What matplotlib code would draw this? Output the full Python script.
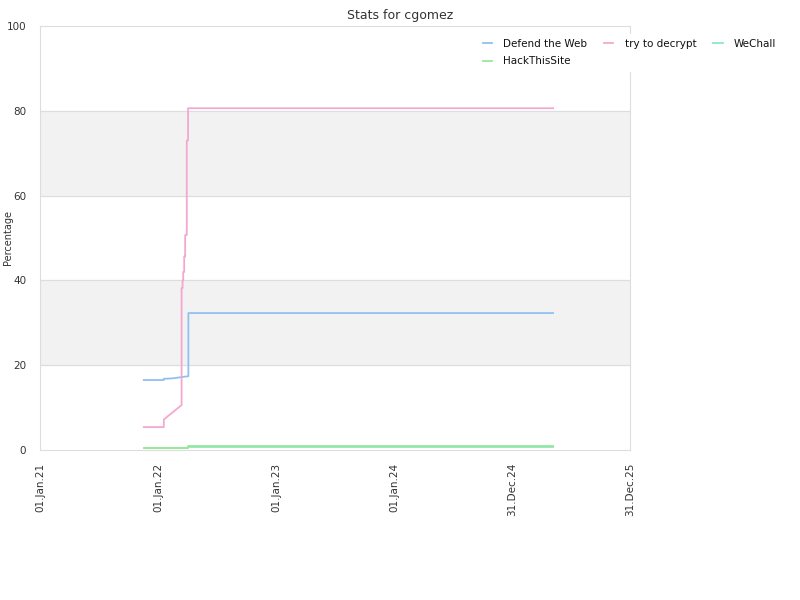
import matplotlib
matplotlib.use("Agg")
import matplotlib.pyplot as plt
import pandas as pd

# Stats per site (percentage solved over time)
defend_dates = ["2021-11-18", "2022-01-19", "2022-01-19", "2022-02-16", "2022-03-15",
                "2022-04-05", "2022-04-05", "2025-05-07"]
defend_vals = [16.5, 16.5, 16.8, 16.9, 17.2, 17.4, 32.3, 32.3]

decrypt_dates = ["2021-11-18", "2022-01-19", "2022-01-19", "2022-03-15", "2022-03-15",
                 "2022-03-18", "2022-03-18", "2022-03-20", "2022-03-20", "2022-03-23",
                 "2022-03-23", "2022-03-26", "2022-03-26", "2022-03-31", "2022-03-31",
                 "2022-04-04", "2022-04-04", "2025-05-07"]
decrypt_vals = [5.4, 5.4, 7.2, 10.6, 38.2, 38.2, 40.0, 40.0, 42.0, 42.0,
                45.6, 45.6, 50.7, 50.7, 73.0, 73.0, 80.6, 80.6]

wechall_dates = ["2021-11-18", "2022-04-05", "2022-04-05", "2025-05-07"]
wechall_vals = [0.5, 0.5, 0.7, 0.7]

hts_dates = ["2021-11-18", "2022-04-05", "2022-04-05", "2025-05-07"]
hts_vals = [0.5, 0.5, 0.9, 0.9]

tick_dates = ["2021-01-01", "2022-01-01", "2023-01-01", "2024-01-01", "2024-12-31", "2025-12-31"]
tick_labels = ["01.Jan.21", "01.Jan.22", "01.Jan.23", "01.Jan.24", "31.Dec.24", "31.Dec.25"]

series = [
    ("Defend the Web", defend_dates, defend_vals, "#90c0f2"),
    ("try to decrypt", decrypt_dates, decrypt_vals, "#f4a8cf"),
    ("WeChall", wechall_dates, wechall_vals, "#8ee6c6"),
    ("HackThisSite", hts_dates, hts_vals, "#98e898"),
]

fig = plt.figure(figsize=(8, 6), dpi=100)
ax = fig.add_axes([0.05, 0.25, 0.7375, 0.7067])

# alternating bands
for lo, hi in [(20, 40), (60, 80)]:
    ax.axhspan(lo, hi, color="#f2f2f2", zorder=0)
for y in [20, 40, 60, 80]:
    ax.axhline(y, color="#dddddd", linewidth=0.8, zorder=1)

lines = {}
for name, d, v, c in series:
    lines[name], = ax.plot(pd.to_datetime(d), v, color=c, linewidth=1.3, label=name, zorder=3)

ax.set_ylim(0, 100)
ax.set_xlim(pd.Timestamp("2021-01-01"), pd.Timestamp("2025-12-31"))
ax.set_yticks([0, 20, 40, 60, 80, 100])
ax.set_xticks(pd.to_datetime(tick_dates))
ax.set_xticklabels(tick_labels, rotation=90)
ax.tick_params(length=0, labelsize=7.5, colors="#333333")
ax.tick_params(axis="y", pad=10)
ax.tick_params(axis="x", pad=9)

for s in ax.spines.values():
    s.set_color("#dddddd")

ax.set_ylabel("Percentage", fontsize=7, color="#333333")
ax.yaxis.set_label_coords(-0.046, 0.5)
fig.suptitle("Stats for cgomez", fontsize=9, color="#333333", y=0.985)

# row-major order: Defend, try, WeChall / HackThisSite
order = ["Defend the Web", "HackThisSite", "try to decrypt", "WeChall"]
leg = ax.legend([lines[n] for n in order], order, loc="upper left",
                bbox_to_anchor=(0.743, 0.98), ncol=3, frameon=True,
                fontsize=7.5, handlelength=0.9, columnspacing=1.6, handletextpad=1.1,
                labelspacing=0.75, borderaxespad=0, fancybox=False)
leg.get_frame().set_edgecolor("white")
leg.get_frame().set_facecolor("white")
leg.get_frame().set_alpha(1)
leg.set_zorder(10)
for t in leg.get_texts():
    t.set_color("#111111")

fig.savefig("out.png", dpi=100)
